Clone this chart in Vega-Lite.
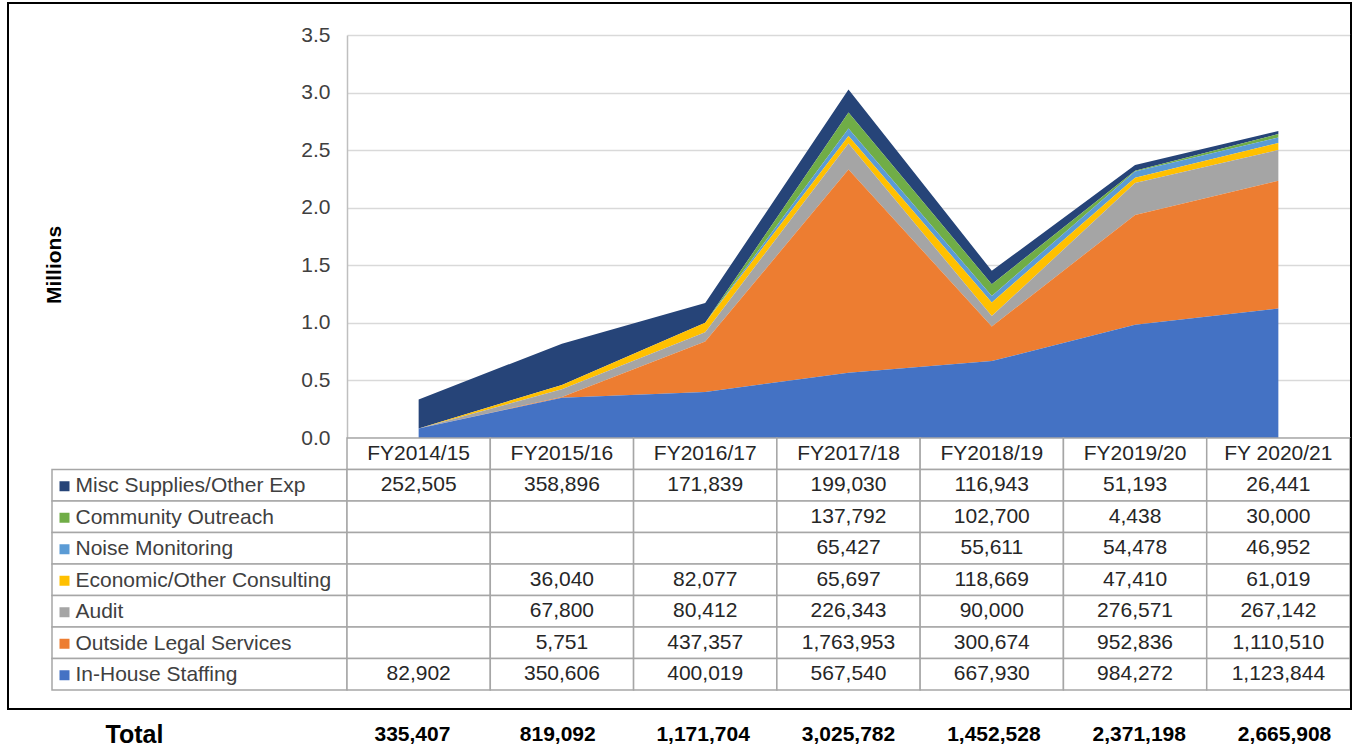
{
  "$schema": "https://vega.github.io/schema/vega-lite/v6.json",
  "padding": {"left": 7, "top": 2, "right": 0, "bottom": 0},
  "background": "white",
  "config": {
    "view": {"stroke": null},
    "font": "Liberation Sans",
    "text": {"font": "Liberation Sans"}
  },
  "datasets": {
    "costs": [
      {"fy": "FY2014/15", "category": "Misc Supplies/Other Exp", "amount": 252505},
      {"fy": "FY2015/16", "category": "Misc Supplies/Other Exp", "amount": 358896},
      {"fy": "FY2016/17", "category": "Misc Supplies/Other Exp", "amount": 171839},
      {"fy": "FY2017/18", "category": "Misc Supplies/Other Exp", "amount": 199030},
      {"fy": "FY2018/19", "category": "Misc Supplies/Other Exp", "amount": 116943},
      {"fy": "FY2019/20", "category": "Misc Supplies/Other Exp", "amount": 51193},
      {"fy": "FY 2020/21", "category": "Misc Supplies/Other Exp", "amount": 26441},
      {"fy": "FY2014/15", "category": "Community Outreach", "amount": 0},
      {"fy": "FY2015/16", "category": "Community Outreach", "amount": 0},
      {"fy": "FY2016/17", "category": "Community Outreach", "amount": 0},
      {"fy": "FY2017/18", "category": "Community Outreach", "amount": 137792},
      {"fy": "FY2018/19", "category": "Community Outreach", "amount": 102700},
      {"fy": "FY2019/20", "category": "Community Outreach", "amount": 4438},
      {"fy": "FY 2020/21", "category": "Community Outreach", "amount": 30000},
      {"fy": "FY2014/15", "category": "Noise Monitoring", "amount": 0},
      {"fy": "FY2015/16", "category": "Noise Monitoring", "amount": 0},
      {"fy": "FY2016/17", "category": "Noise Monitoring", "amount": 0},
      {"fy": "FY2017/18", "category": "Noise Monitoring", "amount": 65427},
      {"fy": "FY2018/19", "category": "Noise Monitoring", "amount": 55611},
      {"fy": "FY2019/20", "category": "Noise Monitoring", "amount": 54478},
      {"fy": "FY 2020/21", "category": "Noise Monitoring", "amount": 46952},
      {"fy": "FY2014/15", "category": "Economic/Other Consulting", "amount": 0},
      {"fy": "FY2015/16", "category": "Economic/Other Consulting", "amount": 36040},
      {"fy": "FY2016/17", "category": "Economic/Other Consulting", "amount": 82077},
      {"fy": "FY2017/18", "category": "Economic/Other Consulting", "amount": 65697},
      {"fy": "FY2018/19", "category": "Economic/Other Consulting", "amount": 118669},
      {"fy": "FY2019/20", "category": "Economic/Other Consulting", "amount": 47410},
      {"fy": "FY 2020/21", "category": "Economic/Other Consulting", "amount": 61019},
      {"fy": "FY2014/15", "category": "Audit", "amount": 0},
      {"fy": "FY2015/16", "category": "Audit", "amount": 67800},
      {"fy": "FY2016/17", "category": "Audit", "amount": 80412},
      {"fy": "FY2017/18", "category": "Audit", "amount": 226343},
      {"fy": "FY2018/19", "category": "Audit", "amount": 90000},
      {"fy": "FY2019/20", "category": "Audit", "amount": 276571},
      {"fy": "FY 2020/21", "category": "Audit", "amount": 267142},
      {"fy": "FY2014/15", "category": "Outside Legal Services", "amount": 0},
      {"fy": "FY2015/16", "category": "Outside Legal Services", "amount": 5751},
      {"fy": "FY2016/17", "category": "Outside Legal Services", "amount": 437357},
      {"fy": "FY2017/18", "category": "Outside Legal Services", "amount": 1763953},
      {"fy": "FY2018/19", "category": "Outside Legal Services", "amount": 300674},
      {"fy": "FY2019/20", "category": "Outside Legal Services", "amount": 952836},
      {"fy": "FY 2020/21", "category": "Outside Legal Services", "amount": 1110510},
      {"fy": "FY2014/15", "category": "In-House Staffing", "amount": 82902},
      {"fy": "FY2015/16", "category": "In-House Staffing", "amount": 350606},
      {"fy": "FY2016/17", "category": "In-House Staffing", "amount": 400019},
      {"fy": "FY2017/18", "category": "In-House Staffing", "amount": 567540},
      {"fy": "FY2018/19", "category": "In-House Staffing", "amount": 667930},
      {"fy": "FY2019/20", "category": "In-House Staffing", "amount": 984272},
      {"fy": "FY 2020/21", "category": "In-House Staffing", "amount": 1123844}
    ],
    "totals": [
      {"fy": "FY2014/15", "total": 335407},
      {"fy": "FY2015/16", "total": 819092},
      {"fy": "FY2016/17", "total": 1171704},
      {"fy": "FY2017/18", "total": 3025782},
      {"fy": "FY2018/19", "total": 1452528},
      {"fy": "FY2019/20", "total": 2371198},
      {"fy": "FY 2020/21", "total": 2665908}
    ]
  },
  "bounds": "flush",
  "spacing": 0,
  "align": "each",
  "columns": 5,
  "concat": [
    {"width": 2, "height": 2, "data": {"values": [{}]}, "mark": {"type": "rect", "color": "#000000"}, "encoding": {}},
    {"width": 43, "height": 2, "data": {"values": [{}]}, "mark": {"type": "rect", "color": "#000000"}, "encoding": {}},
    {"width": 295, "height": 2, "data": {"values": [{}]}, "mark": {"type": "rect", "color": "#000000"}, "encoding": {}},
    {"width": 1003, "height": 2, "data": {"values": [{}]}, "mark": {"type": "rect", "color": "#000000"}, "encoding": {}},
    {"width": 2, "height": 2, "data": {"values": [{}]}, "mark": {"type": "rect", "color": "#000000"}, "encoding": {}},

    {"width": 2, "height": 31, "data": {"values": [{}]}, "mark": {"type": "rect", "color": "#000000"}, "encoding": {}},
    {"width": 43, "height": 31, "data": {"values": []}, "mark": "rect", "encoding": {}},
    {"width": 295, "height": 31, "data": {"values": []}, "mark": "rect", "encoding": {}},
    {"width": 1003, "height": 31, "data": {"values": []}, "mark": "rect", "encoding": {}},
    {"width": 2, "height": 31, "data": {"values": [{}]}, "mark": {"type": "rect", "color": "#000000"}, "encoding": {}},

    {"width": 2, "height": 403, "data": {"values": [{}]}, "mark": {"type": "rect", "color": "#000000"}, "encoding": {}},
    {"width": 43, "height": 403, "data": {"values": []}, "mark": "rect", "encoding": {}},
    {"width": 295, "height": 403, "data": {"values": []}, "mark": "rect", "encoding": {}},
    {
      "width": 1003,
      "height": 403,
      "data": {"name": "costs"},
      "transform": [
        {"calculate": "indexof(['In-House Staffing','Outside Legal Services','Audit','Economic/Other Consulting','Noise Monitoring','Community Outreach','Misc Supplies/Other Exp'], datum.category)", "as": "stackKey"}
      ],
      "mark": {"type": "area", "interpolate": "linear"},
      "encoding": {
        "x": {
          "field": "fy",
          "type": "ordinal",
          "scale": {"type": "point", "padding": 0.5, "domain": ["FY2014/15", "FY2015/16", "FY2016/17", "FY2017/18", "FY2018/19", "FY2019/20", "FY 2020/21"]},
          "axis": null
        },
        "y": {
          "field": "amount",
          "type": "quantitative",
          "stack": "zero",
          "scale": {"domain": [0, 3500000], "nice": false},
          "axis": {
            "values": [0, 500000, 1000000, 1500000, 2000000, 2500000, 3000000, 3500000],
            "labelExpr": "format(datum.value / 1000000, '.1f')",
            "labelFontSize": 21,
            "labelColor": "#404040",
            "labelPadding": 17,
            "ticks": false,
            "domain": true,
            "domainColor": "#bfbfbf",
            "domainWidth": 1.5,
            "grid": true,
            "gridColor": "#d9d9d9",
            "gridWidth": 1.5,
            "title": "Millions",
            "titleFontSize": 21,
            "titleFontWeight": "bold",
            "titleColor": "#000000",
            "titleX": -283,
            "titleY": 229.5
          }
        },
        "color": {
          "field": "category",
          "type": "nominal",
          "scale": {
            "domain": ["Misc Supplies/Other Exp", "Community Outreach", "Noise Monitoring", "Economic/Other Consulting", "Audit", "Outside Legal Services", "In-House Staffing"],
            "range": ["#264478", "#70AD47", "#5B9BD5", "#FFC000", "#A5A5A5", "#ED7D31", "#4472C4"]
          },
          "legend": {
            "orient": "none",
            "legendX": 47,
            "legendY": 473.75,
            "title": null,
            "direction": "vertical",
            "symbolType": "square",
            "symbolSize": 100,
            "symbolStrokeWidth": 0,
            "labelFontSize": 21,
            "labelFont": "Liberation Sans",
            "labelColor": "#404040",
            "labelOffset": 0.5,
            "labelLimit": 400,
            "rowPadding": 9.5,
            "padding": 0
          }
        },
        "order": {"field": "stackKey", "type": "quantitative", "sort": "ascending"}
      }
    },
    {"width": 2, "height": 403, "data": {"values": [{}]}, "mark": {"type": "rect", "color": "#000000"}, "encoding": {}},

    {"width": 2, "height": 252, "data": {"values": [{}]}, "mark": {"type": "rect", "color": "#000000"}, "encoding": {}},
    {"width": 43, "height": 252, "data": {"values": []}, "mark": "rect", "encoding": {}},
    {
      "width": 295,
      "height": 252,
      "data": {"name": "costs"},
      "transform": [{"filter": "datum.fy === 'FY2014/15'"}],
      "mark": {"type": "rect", "fill": "white", "stroke": "#a6a6a6", "strokeWidth": 1.5},
      "encoding": {
        "y": {
          "field": "category",
          "type": "nominal",
          "scale": {"domain": ["hdr", "Misc Supplies/Other Exp", "Community Outreach", "Noise Monitoring", "Economic/Other Consulting", "Audit", "Outside Legal Services", "In-House Staffing"], "paddingInner": 0, "paddingOuter": 0},
          "axis": null
        }
      }
    },
    {
      "width": 1003,
      "height": 252,
      "encoding": {
        "x": {
          "field": "fy",
          "type": "nominal",
          "scale": {"domain": ["FY2014/15", "FY2015/16", "FY2016/17", "FY2017/18", "FY2018/19", "FY2019/20", "FY 2020/21"], "paddingInner": 0, "paddingOuter": 0},
          "axis": null
        }
      },
      "layer": [
        {
          "data": {"name": "totals"},
          "mark": {"type": "rect", "fill": "white", "stroke": "#a6a6a6", "strokeWidth": 1.5},
          "encoding": {
            "y": {"datum": "hdr", "type": "nominal", "scale": {"domain": ["hdr", "Misc Supplies/Other Exp", "Community Outreach", "Noise Monitoring", "Economic/Other Consulting", "Audit", "Outside Legal Services", "In-House Staffing"], "paddingInner": 0, "paddingOuter": 0}, "axis": null}
          }
        },
        {
          "data": {"name": "totals"},
          "mark": {"type": "text", "fontSize": 21, "color": "#262626", "align": "center", "baseline": "middle"},
          "encoding": {
            "y": {"datum": "hdr", "type": "nominal"},
            "text": {"field": "fy", "type": "nominal"}
          }
        },
        {
          "data": {"name": "costs"},
          "mark": {"type": "rect", "fill": "white", "stroke": "#a6a6a6", "strokeWidth": 1.5},
          "encoding": {
            "y": {"field": "category", "type": "nominal"}
          }
        },
        {
          "data": {"name": "costs"},
          "transform": [{"filter": "datum.amount > 0"}],
          "mark": {"type": "text", "fontSize": 21, "color": "#262626", "align": "center", "baseline": "middle"},
          "encoding": {
            "y": {"field": "category", "type": "nominal"},
            "text": {"field": "amount", "type": "quantitative", "format": ","}
          }
        }
      ]
    },
    {"width": 2, "height": 252, "data": {"values": [{}]}, "mark": {"type": "rect", "color": "#000000"}, "encoding": {}},

    {"width": 2, "height": 18, "data": {"values": [{}]}, "mark": {"type": "rect", "color": "#000000"}, "encoding": {}},
    {"width": 43, "height": 18, "data": {"values": []}, "mark": "rect", "encoding": {}},
    {"width": 295, "height": 18, "data": {"values": []}, "mark": "rect", "encoding": {}},
    {"width": 1003, "height": 18, "data": {"values": []}, "mark": "rect", "encoding": {}},
    {"width": 2, "height": 18, "data": {"values": [{}]}, "mark": {"type": "rect", "color": "#000000"}, "encoding": {}},

    {"width": 2, "height": 2, "data": {"values": [{}]}, "mark": {"type": "rect", "color": "#000000"}, "encoding": {}},
    {"width": 43, "height": 2, "data": {"values": [{}]}, "mark": {"type": "rect", "color": "#000000"}, "encoding": {}},
    {"width": 295, "height": 2, "data": {"values": [{}]}, "mark": {"type": "rect", "color": "#000000"}, "encoding": {}},
    {"width": 1003, "height": 2, "data": {"values": [{}]}, "mark": {"type": "rect", "color": "#000000"}, "encoding": {}},
    {"width": 2, "height": 2, "data": {"values": [{}]}, "mark": {"type": "rect", "color": "#000000"}, "encoding": {}},

    {"width": 2, "height": 36, "data": {"values": []}, "mark": "rect", "encoding": {}},
    {"width": 43, "height": 36, "data": {"values": []}, "mark": "rect", "encoding": {}},
    {"width": 295, "height": 36, "data": {"values": []}, "mark": "rect", "encoding": {}},
    {
      "width": 1003,
      "height": 36,
      "data": {"name": "totals"},
      "mark": {"type": "text", "fontSize": 21, "fontWeight": "bold", "color": "#000000", "align": "center", "baseline": "middle"},
      "encoding": {
        "x": {
          "field": "fy",
          "type": "nominal",
          "scale": {"type": "point", "padding": 0.45, "align": 0.5, "domain": ["FY2014/15", "FY2015/16", "FY2016/17", "FY2017/18", "FY2018/19", "FY2019/20", "FY 2020/21"]},
          "axis": null
        },
        "y": {
          "datum": "Total",
          "type": "nominal",
          "scale": {"type": "point", "align": 0.694},
          "axis": {
            "orient": "left",
            "ticks": false,
            "tickSize": 0,
            "domain": false,
            "labelAlign": "left",
            "labelPadding": 242,
            "labelFontSize": 25,
            "labelFontWeight": "bold",
            "labelColor": "#000000",
            "title": null
          }
        },
        "text": {"field": "total", "type": "quantitative", "format": ","}
      }
    },
    {"width": 2, "height": 36, "data": {"values": []}, "mark": "rect", "encoding": {}}
  ]
}
